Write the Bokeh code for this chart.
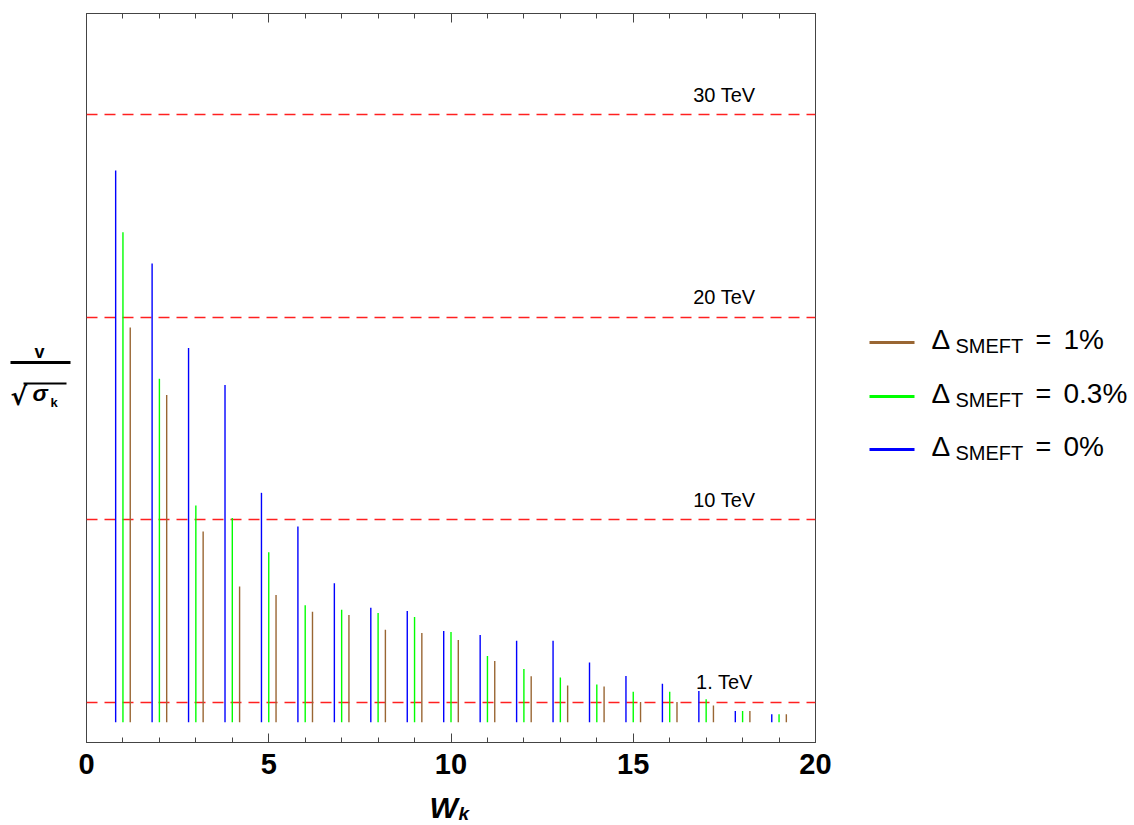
import numpy as np
from bokeh.plotting import figure
from bokeh.layouts import row, column
from bokeh.models import Range1d, LinearAxis, SingleIntervalTicker
from bokeh.core.properties import value
from bokeh.embed import file_html
from bokeh.resources import INLINE

# ---- data ----
k = np.arange(1, 20)
delta_0 = [27.25, 22.65, 18.48, 16.66, 11.33, 9.67, 6.87, 5.65, 5.50, 4.51,
           4.31, 4.02, 4.03, 2.95, 2.28, 1.90, 1.54, 0.55, 0.39]
delta_03 = [24.2, 16.96, 10.7, 10.09, 8.39, 5.78, 5.55, 5.40, 5.20, 4.46,
            3.27, 2.63, 2.21, 1.86, 1.51, 1.51, 1.13, 0.55, 0.39]
delta_1 = [19.5, 16.16, 9.42, 6.70, 6.29, 5.46, 5.30, 4.57, 4.41, 4.06,
           3.03, 2.27, 1.81, 1.77, 1.0, 1.0, 0.83, 0.55, 0.39]
levels = [1, 10, 20, 30]
level_labels = ["1. TeV", "10 TeV", "20 TeV", "30 TeV"]
legend_values = ["1%", "0.3%", "0%"]
xticks_interval = 5

FONT = "Liberation Sans"
BLUE = "#0000ff"
GREEN = "#00ff00"
BROWN = "#996633"

# ---- main plot ----
p = figure(frame_width=729, frame_height=729, x_range=Range1d(0, 20), y_range=Range1d(-1, 35),
           output_backend="svg", toolbar_location=None,
           min_border_left=10, min_border_right=25, min_border_top=13, min_border_bottom=45)
p.background_fill_color = "white"
p.border_fill_color = "white"
p.outline_line_color = "#444444"
p.outline_line_width = 1
p.xgrid.visible = False
p.ygrid.visible = False
p.yaxis.visible = False

ax = p.xaxis[0]
ax.ticker = SingleIntervalTicker(interval=xticks_interval, num_minor_ticks=5)
ax.major_tick_in = 9
ax.major_tick_out = 0
ax.minor_tick_in = 5
ax.minor_tick_out = 0
ax.major_tick_line_color = "#444444"
ax.minor_tick_line_color = "#444444"
ax.axis_line_color = "#444444"
ax.major_label_text_font = FONT
ax.major_label_text_font_style = "bold"
ax.major_label_text_font_size = "29px"
ax.major_label_text_color = "black"
ax.major_label_standoff = 11

top = LinearAxis(ticker=SingleIntervalTicker(interval=xticks_interval, num_minor_ticks=5),
                 major_tick_in=9, major_tick_out=0, minor_tick_in=5, minor_tick_out=0,
                 major_label_standoff=0, major_label_text_font_size="1px",
                 major_label_text_color=None, axis_line_color="#444444",
                 major_tick_line_color="#444444", minor_tick_line_color="#444444")
p.add_layout(top, "above")

# reference levels
p.hspan(y=levels, line_color="#ff2020", line_dash="11 7", line_width=1.3)
p.text(x=[17.5] * len(levels), y=levels, text=level_labels, text_align="center",
       text_baseline="middle", y_offset=-20, text_font=value(FONT),
       text_font_size="20px", text_color="black")

# bars
kk = k.astype(float)
p.segment(x0=kk - 0.2, y0=0, x1=kk - 0.2, y1=delta_0, line_color=BLUE, line_width=1.4)
p.segment(x0=kk, y0=0, x1=kk, y1=delta_03, line_color=GREEN, line_width=1.4)
p.segment(x0=kk + 0.2, y0=0, x1=kk + 0.2, y1=delta_1, line_color=BROWN, line_width=1.4)

# ---- helper for blank panels whose data coordinates equal page pixels ----
def blank(w, h, y_top, y_bottom):
    f = figure(width=w, height=h, x_range=Range1d(0, w), y_range=Range1d(y_bottom, y_top),
               output_backend="svg", toolbar_location=None, min_border=0)
    f.axis.visible = False
    f.grid.visible = False
    f.outline_line_color = None
    f.background_fill_color = "white"
    f.border_fill_color = "white"
    return f

# ---- left: y label fraction v / sqrt(sigma_k) (frame aligned with main frame 13..742) ----
left = blank(76, 787, 13, 742)
left.text(x=[39], y=[351], text=["v"], text_align="center", text_baseline="middle",
          text_font=value(FONT), text_font_style="bold", text_font_size="18px")
left.segment(x0=[10], y0=[362], x1=[70], y1=[362], line_color="black", line_width=3)
left.text(x=[10], y=[396], text=["√"], text_align="left", text_baseline="middle",
          text_font=value("DejaVu Sans"), text_font_style="bold", text_font_size="25px")
left.segment(x0=[23], y0=[383], x1=[66], y1=[383], line_color="black", line_width=2)
left.text(x=[32], y=[392], text=["σ"], text_align="left", text_baseline="middle",
          text_font=value(FONT), text_font_style="bold italic", text_font_size="23px")
left.text(x=[50], y=[402], text=["k"], text_align="left", text_baseline="middle",
          text_font=value(FONT), text_font_style="bold", text_font_size="13px")

# ---- right: legend ----
leg = blank(294, 787, 13, 742)
colors = [BROWN, GREEN, BLUE]
ys = [342, 396, 449]
for lab, col, yy in zip(legend_values, colors, ys):
    leg.segment(x0=[29], y0=[yy], x1=[74], y1=[yy], line_color=col, line_width=3)
    leg.text(x=[91], y=[yy - 3], text=["Δ"], text_align="left", text_baseline="middle",
             text_font=value(FONT), text_font_size="28px")
    leg.text(x=[115], y=[yy + 3], text=["SMEFT"], text_align="left", text_baseline="middle",
             text_font=value(FONT), text_font_size="20px")
    leg.text(x=[195], y=[yy - 3], text=["="], text_align="left", text_baseline="middle",
             text_font=value(FONT), text_font_size="27px")
    leg.text(x=[223], y=[yy - 3], text=[lab], text_align="left", text_baseline="middle",
             text_font=value(FONT), text_font_size="28px")

# ---- bottom strip: x-axis title W_k (page y 787..825) ----
bottom = blank(1134, 38, 787, 825)
bottom.text(x=[429], y=[807], text=["W"], text_align="left", text_baseline="middle",
            text_font=value(FONT), text_font_style="bold italic", text_font_size="30px")
bottom.text(x=[458], y=[813], text=["k"], text_align="left", text_baseline="middle",
            text_font=value(FONT), text_font_style="bold italic", text_font_size="19px")

layout = column(row(left, p, leg, spacing=0), bottom, spacing=0)
open("out.html", "w").write(file_html(layout, INLINE))
